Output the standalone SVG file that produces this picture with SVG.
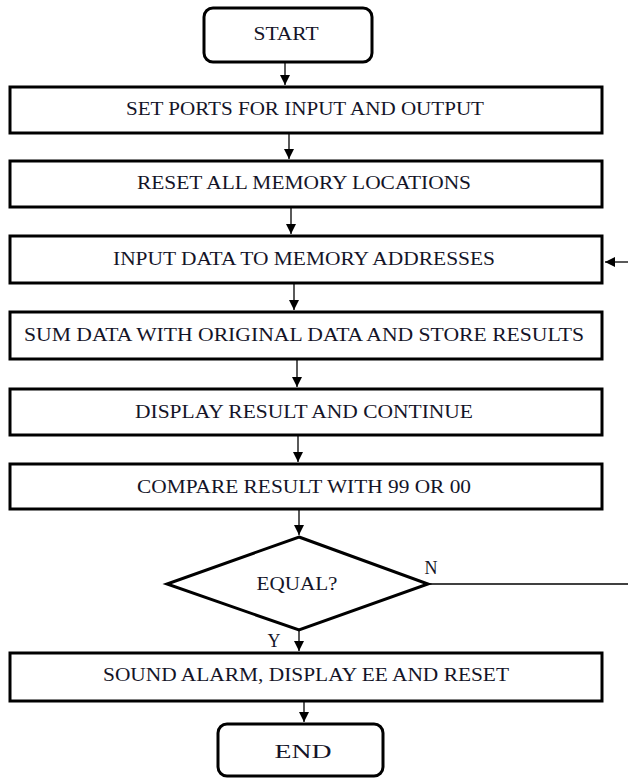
<svg xmlns="http://www.w3.org/2000/svg" width="628" height="781" viewBox="0 0 628 781">
<style>
.box{fill:#fff;stroke:#000;stroke-width:3}
.t{font-family:"Liberation Serif","Times New Roman",serif;font-size:19.5px;fill:#141428;text-anchor:middle}
.s{font-size:18px}
.c{stroke:#000;stroke-width:1.3;fill:none}
</style>
<defs>
<marker id="ah" markerWidth="12" markerHeight="12" refX="10" refY="5" orient="auto" markerUnits="userSpaceOnUse">
<path d="M0,0 L10,5 L0,10 Z" fill="#000"/>
</marker>
</defs>
<rect width="628" height="781" fill="#fff"/>
<g id="start"><rect class="box" x="204" y="8" width="168" height="54" rx="9"/><text class="t s" x="286" y="40" textLength="65" lengthAdjust="spacingAndGlyphs">START</text></g>
<g id="n1"><rect class="box" x="10" y="87" width="592" height="46"/><text class="t" x="305" y="115" textLength="358" lengthAdjust="spacingAndGlyphs">SET PORTS FOR INPUT AND OUTPUT</text></g>
<g id="n2"><rect class="box" x="10" y="161" width="592" height="46"/><text class="t" x="304" y="189" textLength="334" lengthAdjust="spacingAndGlyphs">RESET ALL MEMORY LOCATIONS</text></g>
<g id="n3"><rect class="box" x="10" y="236" width="592" height="47"/><text class="t" x="304" y="265" textLength="382" lengthAdjust="spacingAndGlyphs">INPUT DATA TO MEMORY ADDRESSES</text></g>
<g id="n4"><rect class="box" x="10" y="312" width="592" height="47"/><text class="t" x="304" y="341" textLength="560" lengthAdjust="spacingAndGlyphs">SUM DATA WITH ORIGINAL DATA AND STORE RESULTS</text></g>
<g id="n5"><rect class="box" x="10" y="389" width="592" height="46"/><text class="t" x="304" y="418" textLength="338" lengthAdjust="spacingAndGlyphs">DISPLAY RESULT AND CONTINUE</text></g>
<g id="n6"><rect class="box" x="10" y="464" width="592" height="45"/><text class="t" x="304" y="493" textLength="334" lengthAdjust="spacingAndGlyphs">COMPARE RESULT WITH 99 OR 00</text></g>
<g id="dec"><polygon class="box" points="299,537 428,584 299,630 167,584"/><text class="t s" x="297" y="590" textLength="81" lengthAdjust="spacingAndGlyphs">EQUAL?</text></g>
<g id="n7"><rect class="box" x="10" y="653" width="592" height="48"/><text class="t" x="306" y="681" textLength="406" lengthAdjust="spacingAndGlyphs">SOUND ALARM, DISPLAY EE AND RESET</text></g>
<g id="end"><rect class="box" x="218" y="724" width="165" height="52" rx="9"/><text class="t s" x="303" y="758" textLength="57" lengthAdjust="spacingAndGlyphs">END</text></g>
<g id="connectors">
<line class="c" x1="285" y1="63" x2="285" y2="85" marker-end="url(#ah)"/>
<line class="c" x1="289" y1="134" x2="289" y2="159" marker-end="url(#ah)"/>
<line class="c" x1="291" y1="208" x2="291" y2="234" marker-end="url(#ah)"/>
<line class="c" x1="294" y1="284" x2="294" y2="310" marker-end="url(#ah)"/>
<line class="c" x1="297" y1="360" x2="297" y2="387" marker-end="url(#ah)"/>
<line class="c" x1="298" y1="436" x2="298" y2="462" marker-end="url(#ah)"/>
<line class="c" x1="299" y1="510" x2="299" y2="535" marker-end="url(#ah)"/>
<line class="c" x1="299" y1="631" x2="299" y2="651" marker-end="url(#ah)"/>
<line class="c" x1="304" y1="702" x2="304" y2="722" marker-end="url(#ah)"/>
<line class="c" x1="428" y1="584" x2="628" y2="584"/>
<line class="c" x1="628" y1="262" x2="605" y2="262" marker-end="url(#ah)"/>
<text class="t s" x="431" y="574">N</text>
<text class="t s" x="274" y="647">Y</text>
</g>
</svg>
